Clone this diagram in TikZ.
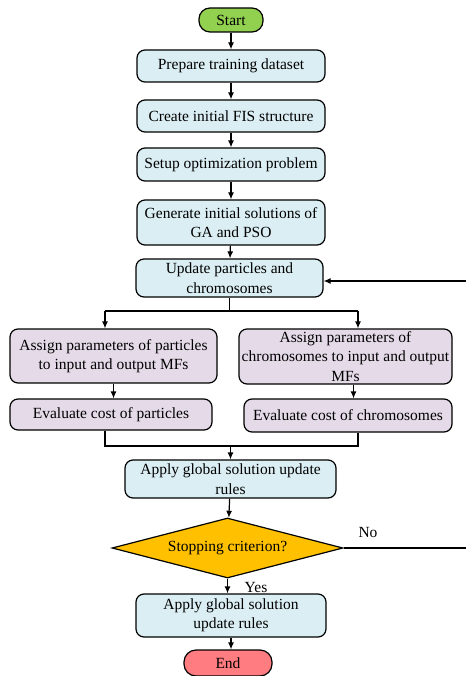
\documentclass[tikz,border=0pt]{standalone}
\usepackage{fontspec}
\setmainfont{Liberation Serif}
\usepackage{xcolor}
\usepackage{tikz}
\usetikzlibrary{arrows.meta,positioning,shapes.geometric,calc}
\definecolor{stepblue}{HTML}{DAEEF3}
\definecolor{steppurp}{HTML}{E4DAE8}
\definecolor{startgrn}{HTML}{92D050}
\definecolor{endred}{HTML}{FF7C80}
\definecolor{decorng}{HTML}{FFC000}

\begin{document}
\begin{tikzpicture}[x=1pt,y=-1pt,
  box/.style={draw,line width=1.2pt,rounded corners=8pt,align=center,inner sep=1pt,
    font=\fontsize{15.5}{19.5}\selectfont},
  bluebox/.style={box,fill=stepblue},
  purpbox/.style={box,fill=steppurp},
  arr/.style={line width=1.2pt,-{Latex[length=7pt,width=6pt]}},
  ln/.style={line width=1.2pt}]
\useasboundingbox (0,0) rectangle (465,676);
% terminals
\node[box,fill=startgrn,rounded corners=11pt,minimum width=64,minimum height=24] (start) at (231,20) {Start};
\node[box,fill=endred,rounded corners=12pt,minimum width=88,minimum height=26] (endn) at (228,663) {End};
% main column
\node[bluebox,minimum width=188,minimum height=32] (prep) at (231,66) {Prepare training dataset};
\node[bluebox,minimum width=188,minimum height=32] (fis) at (231,116) {Create initial FIS structure};
\node[bluebox,minimum width=188,minimum height=33] (setup) at (231,164.5) {Setup optimization problem};
\node[bluebox,minimum width=188,minimum height=45] (gen) at (231,222.5) {Generate initial solutions of\\GA and PSO};
\node[bluebox,minimum width=187,minimum height=38] (upd) at (229.5,278) {Update particles and\\chromosomes};
% two branches
\node[purpbox,minimum width=207,minimum height=54] (asgL) at (113.5,356) {Assign parameters of particles\\to input and output MFs};
\node[purpbox,minimum width=213,minimum height=55] (asgR) at (345.5,356.5) {Assign parameters of\\chromosomes to input and output\\MFs};
\node[purpbox,minimum width=202,minimum height=31] (evL) at (111,414.5) {Evaluate cost of particles};
\node[purpbox,minimum width=208,minimum height=33] (evR) at (348,415.5) {Evaluate cost of chromosomes};
\node[bluebox,minimum width=211,minimum height=38] (app1) at (230.5,479) {Apply global solution update\\rules};
\node[draw,line width=1.2pt,diamond,aspect=3.85,fill=decorng,inner sep=0pt,minimum width=231,minimum height=60,
  font=\fontsize{15.5}{19.5}\selectfont] (stop) at (227.5,548) {Stopping criterion?};
\node[bluebox,minimum width=190,minimum height=43] (app2) at (231,615.5) {Apply global solution\\update rules};
% labels
\node[font=\fontsize{15.5}{18}\selectfont] (nolbl) at (368,532) {No};
\node[font=\fontsize{15.5}{18}\selectfont] (yeslbl) at (256,587) {Yes};
% split and merge points
\coordinate (splitL) at (105,311);
\coordinate (splitR) at (358,311);
\coordinate (mergeL) at (105,446);
\coordinate (mergeR) at (358,446);
\coordinate (fb) at (468,281);
% connectors
\draw[arr] (start) -- (prep);
\draw[arr] (prep) -- (fis);
\draw[arr] (fis) -- (setup);
\draw[arr] (setup) -- (gen);
\draw[arr] (gen) -- (upd);
\draw[ln] (upd.south) -- (upd.south |- splitL);
\draw[ln] (splitL) -- (splitR);
\draw[arr] (splitL) -- (splitL |- asgL.north);
\draw[arr] (splitR) -- (splitR |- asgR.north);
\draw[arr] (asgL.south) -- (asgL.south |- evL.north);
\draw[arr] ([xshift=8pt]asgR.south) -- ([xshift=8pt]asgR.south |- evR.north);
\draw[ln] (mergeL |- evL.south) -- (mergeL) -- (mergeR) -- (mergeR |- evR.south);
\draw[arr] (app1.north |- mergeL) -- (app1.north);
\draw[arr] (app1) -- (stop);
\draw[arr] (stop.south) -- (stop.south |- app2.north);
\draw[arr] (app2.south) -- (app2.south |- endn.north);
% loop back
\draw[arr] (stop.east) -- (stop.east -| fb) -- (fb) -- (fb -| upd.east);
\end{tikzpicture}
\end{document}
